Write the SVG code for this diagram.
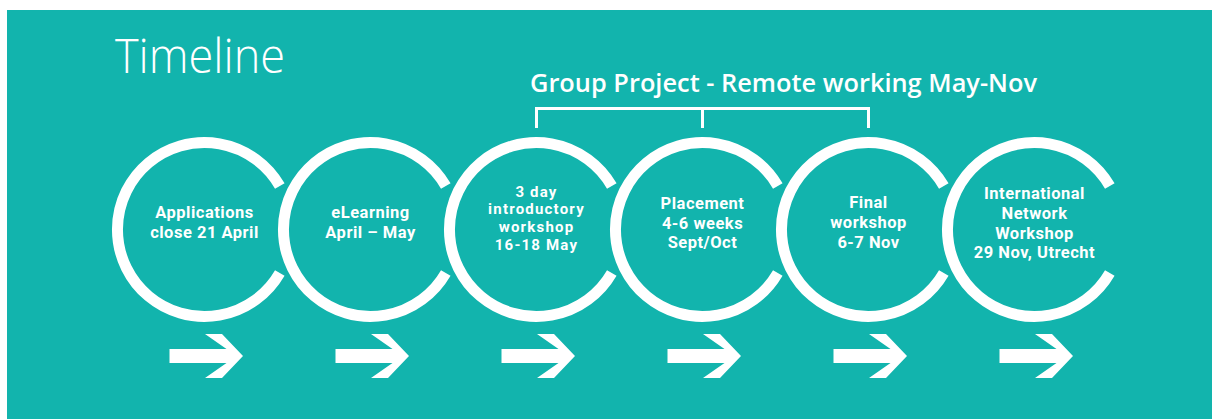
<svg xmlns="http://www.w3.org/2000/svg" xmlns:xlink="http://www.w3.org/1999/xlink" width="1212" height="419" viewBox="0 0 1212 419">
  <style>
    .panel { fill: #12b4ad; }
    .ring { fill: none; stroke: #ffffff; stroke-width: 11; stroke-linecap: butt; }
    .arrow { fill: #ffffff; }
    .bracket { fill: none; stroke: #ffffff; stroke-width: 3; }
    .label { font-family: Roboto, "Liberation Sans", sans-serif; font-weight: 700; font-size: 16.5px; letter-spacing: 0.5px; fill: #ffffff; text-anchor: middle; }
    .label.tight { font-size: 15px; letter-spacing: 1.2px; }
    .title { font-family: "Open Sans", "Liberation Sans", sans-serif; font-weight: 300; font-size: 48px; fill: #ffffff; }
    .heading { font-family: "Open Sans", "Liberation Sans", sans-serif; font-weight: 600; font-size: 25px; fill: #ffffff; }
  </style>
  <defs>
    <!-- open ring, gap facing right; centred on the origin -->
    <path id="ring" class="ring" d="M 75.3 -43.5 A 87 87 0 1 0 75.3 43.5"/>
    <!-- forward arrow, positioned relative to the ring centre -->
    <path id="arrow" class="arrow" d="M -35 119.5 H 22 L 0.5 104.5 H 17.5 L 38.5 126.5 L 17.5 148.5 H 0.5 L 22 133.5 H -35 Z"/>
  </defs>

  <rect class="panel" x="7" y="10" width="1205" height="409"/>

  <text class="title" x="115" y="73" textLength="170" lengthAdjust="spacingAndGlyphs">Timeline</text>

  <g id="group-project">
    <text class="heading" x="530" y="92" textLength="507" lengthAdjust="spacingAndGlyphs">Group Project - Remote working May-Nov</text>
    <path class="bracket" d="M 536.5 128 V 108.5 H 868.5 V 128 M 702.5 108.5 V 128"/>
  </g>

  <g id="step-applications" transform="translate(204.5 229.5)">
    <use xlink:href="#ring"/>
    <text class="label" x="0" y="-11.5">Applications</text>
    <text class="label" x="0" y="8">close 21 April</text>
  </g>

  <g id="step-elearning" transform="translate(370.5 229.5)">
    <use xlink:href="#ring"/>
    <text class="label" x="0" y="-11.5">eLearning</text>
    <text class="label" x="0" y="8">April – May</text>
  </g>

  <g id="step-intro-workshop" transform="translate(536.5 229.5)">
    <use xlink:href="#ring"/>
    <text class="label tight" x="0" y="-33">3 day</text>
    <text class="label tight" x="0" y="-15.2">introductory</text>
    <text class="label tight" x="0" y="2.6">workshop</text>
    <text class="label tight" x="0" y="20.4">16-18 May</text>
  </g>

  <g id="step-placement" transform="translate(702.5 229.5)">
    <use xlink:href="#ring"/>
    <text class="label" x="0" y="-20.5">Placement</text>
    <text class="label" x="0" y="-1">4-6 weeks</text>
    <text class="label" x="0" y="18.5">Sept/Oct</text>
  </g>

  <g id="step-final-workshop" transform="translate(868.5 229.5)">
    <use xlink:href="#ring"/>
    <text class="label" x="0" y="-21.5">Final</text>
    <text class="label" x="0" y="-1.5">workshop</text>
    <text class="label" x="0" y="18">6-7 Nov</text>
  </g>

  <g id="step-network-workshop" transform="translate(1034.5 229.5)">
    <use xlink:href="#ring"/>
    <text class="label" x="0" y="-30.5">International</text>
    <text class="label" x="0" y="-11">Network</text>
    <text class="label" x="0" y="9">Workshop</text>
    <text class="label" x="0" y="28.5">29 Nov, Utrecht</text>
  </g>

  <g id="connectors">
    <use xlink:href="#arrow" transform="translate(204.5 229.5)"/>
    <use xlink:href="#arrow" transform="translate(370.5 229.5)"/>
    <use xlink:href="#arrow" transform="translate(536.5 229.5)"/>
    <use xlink:href="#arrow" transform="translate(702.5 229.5)"/>
    <use xlink:href="#arrow" transform="translate(868.5 229.5)"/>
    <use xlink:href="#arrow" transform="translate(1034.5 229.5)"/>
  </g>
</svg>
